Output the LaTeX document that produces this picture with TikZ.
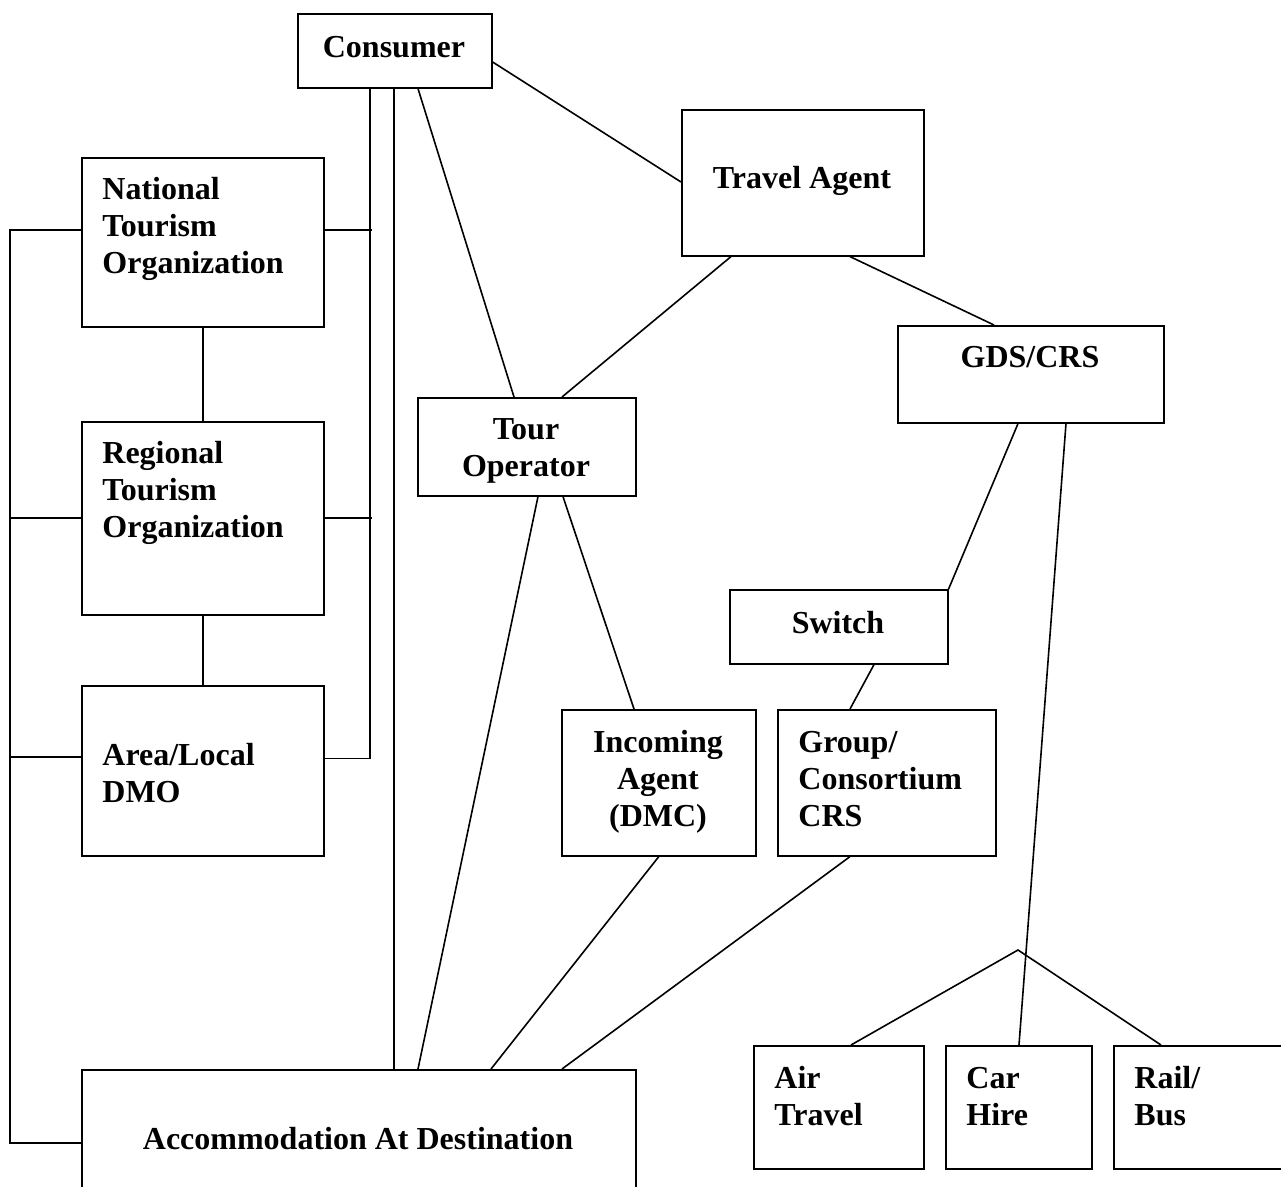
\documentclass[tikz,border=0pt]{standalone}
\usepackage{fontspec}
\setmainfont{Liberation Serif}
\usetikzlibrary{calc}
\tikzset{
  box/.style={draw, line width=0.8pt, inner sep=0pt, anchor=north west},
  lbl/.style={font=\bfseries\fontsize{16}{18.5}\selectfont, inner sep=0pt},
  link/.style={line width=0.8pt}
}
\begin{document}
\begin{tikzpicture}[x=0.5pt, y=-0.5pt]
    \clip (0,0) rectangle (1281,1187);
    % boxes
    \node[box, minimum width=97pt, minimum height=37pt] (consumer) at (297,13) {};
    \node[box, minimum width=121pt, minimum height=73pt] (travel) at (681,109) {};
    \node[box, minimum width=121pt, minimum height=84.5pt] (nto) at (81,157) {};
    \node[box, minimum width=121pt, minimum height=96.5pt] (rto) at (81,421) {};
    \node[box, minimum width=121pt, minimum height=85pt] (dmo) at (81,685) {};
    \node[box, minimum width=109pt, minimum height=49pt] (tour) at (417,397) {};
    \node[box, minimum width=133pt, minimum height=48.5pt] (gds) at (897,325) {};
    \node[box, minimum width=109pt, minimum height=37pt] (switch) at (729,589) {};
    \node[box, minimum width=97pt, minimum height=73pt] (incoming) at (561,709) {};
    \node[box, minimum width=109pt, minimum height=73pt] (group) at (777,709) {};
    \node[box, minimum width=277pt, minimum height=100pt] (accom) at (81,1069) {};
    \node[box, minimum width=85pt, minimum height=61.5pt] (air) at (753,1045) {};
    \node[box, minimum width=73pt, minimum height=61.5pt] (car) at (945,1045) {};
    \node[box, minimum width=100pt, minimum height=61.5pt] (railbus) at (1113,1045) {};

    % labels (base = last line)
    \node[lbl, anchor=base] (consumerT) at (394,58) {Consumer};
    \node[lbl, anchor=base] (travelT) at (802,189) {Travel Agent};
    \node[lbl, anchor=base west, align=left] (ntoT) at (102,274) {National\\Tourism\\Organization};
    \node[lbl, anchor=base west, align=left] (rtoT) at (102,538) {Regional\\Tourism\\Organization};
    \node[lbl, anchor=base west, align=left] (dmoT) at (102,802) {Area/Local\\DMO};
    \node[lbl, anchor=base, align=center] (tourT) at (526,477) {Tour\\Operator};
    \node[lbl, anchor=base] (gdsT) at (1030,368) {GDS/CRS};
    \node[lbl, anchor=base] (switchT) at (838,633) {Switch};
    \node[lbl, anchor=base, align=center] (incomingT) at (658,826) {Incoming\\Agent\\(DMC)};
    \node[lbl, anchor=base west, align=left] (groupT) at (798,826) {Group/\\Consortium\\CRS};
    \node[lbl, anchor=base] (accomT) at (358,1149) {Accommodation At Destination};
    \node[lbl, anchor=base west, align=left] (airT) at (774,1125) {Air\\Travel};
    \node[lbl, anchor=base west, align=left] (carT) at (966,1125) {Car\\Hire};
    \node[lbl, anchor=base west, align=left] (railT) at (1134,1125) {Rail/\\Bus};

    % tourism organisations
    \draw[link] (consumer.south west) ++(73,0) coordinate (bus) -- ++(0,670) coordinate (busEnd) -- (busEnd -| dmo.east);
    \draw[link] (nto.north east) ++(0,73) -- ++(47,0);
    \draw[link] (rto.north east) ++(0,97) -- ++(47,0);
    \draw[link] (nto.south) -- (rto.north);
    \draw[link] (rto.south) -- (dmo.north);
    \coordinate (leftbus) at (10,1143);
    \draw[link] (nto.north west) ++(0,73) -| (leftbus) -- (leftbus -| accom.west);
    \draw[link] (rto.north west) ++(0,97) -- ++(-71,0);
    \draw[link] (dmo.north west) ++(0,72) -- ++(-71,0);

    % distribution
    \draw[link] (consumer.south west) ++(97,0) coordinate (direct) -- (direct |- accom.north);
    \draw[link] ($(consumer.south west)+(121,0)$) -- ($(tour.north west)+(97,0)$);
    \draw[link] ($(consumer.north east)+(0,49)$) -- ($(travel.north west)+(0,73)$);
    \draw[link] ($(travel.south west)+(50,0)$) -- ($(tour.north west)+(145,0)$);
    \draw[link] ($(travel.south west)+(169,0)$) -- ($(gds.north west)+(97,0)$);
    \draw[link] ($(gds.south west)+(121,0)$) -- (switch.north east);
    \draw[link] ($(gds.south west)+(169,0)$) -- ($(car.north west)+(74,0)$);
    \draw[link] ($(switch.south west)+(145,0)$) -- ($(group.north west)+(73,0)$);
    \draw[link] ($(tour.south west)+(121,0)$) -- ($(accom.north west)+(337,0)$);
    \draw[link] ($(tour.south west)+(146,0)$) -- ($(incoming.north west)+(73,0)$);
    \draw[link] (incoming.south) -- ($(accom.north west)+(410,0)$);
    \draw[link] ($(group.south west)+(73,0)$) -- ($(accom.north west)+(481,0)$);
    \coordinate (apex) at (1018,950);
    \draw[link] ($(air.north west)+(98,0)$) -- (apex) -- ($(railbus.north west)+(48,0)$);
\end{tikzpicture}
\end{document}
